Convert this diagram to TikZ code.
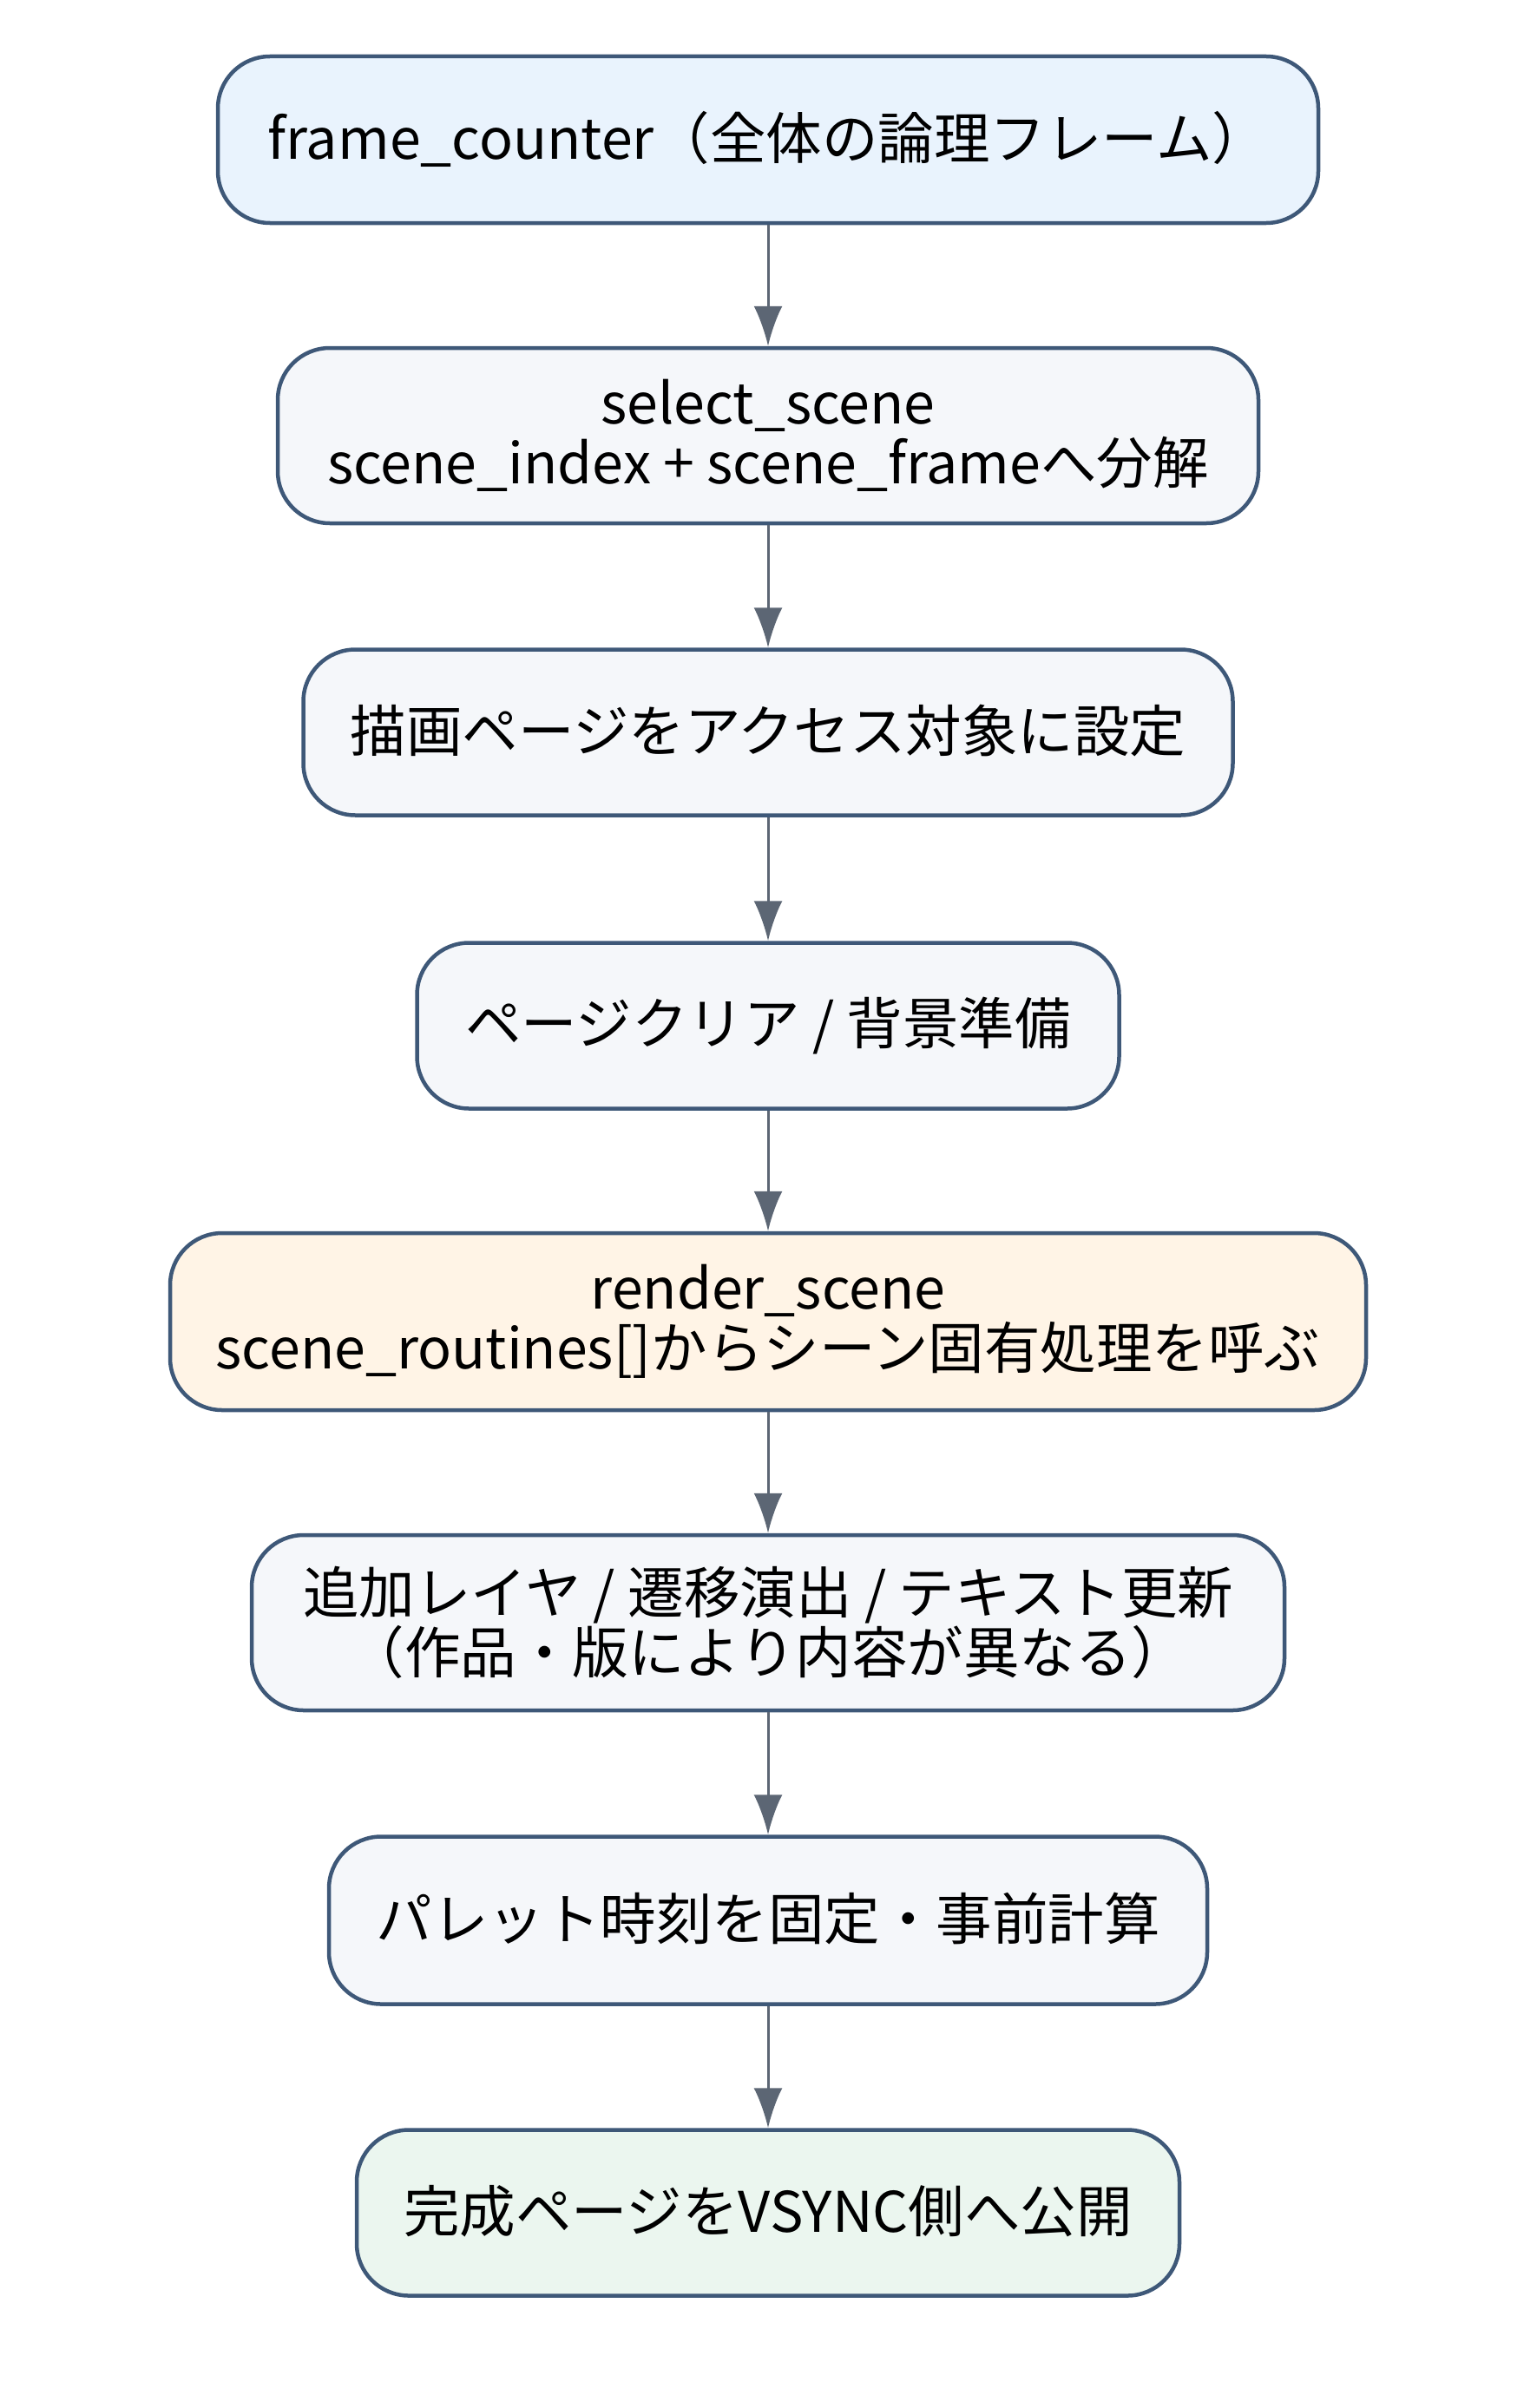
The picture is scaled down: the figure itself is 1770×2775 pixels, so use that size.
\documentclass[tikz,border=0pt]{standalone}
\usepackage{fontspec}
\setmainfont{Noto Sans CJK JP}
\usetikzlibrary{arrows.meta}
\definecolor{bordercol}{HTML}{3E5878}
\definecolor{arrowcol}{HTML}{5C6674}
\definecolor{fillblue}{HTML}{E9F3FD}
\definecolor{fillgrey}{HTML}{F5F7FA}
\definecolor{fillorange}{HTML}{FFF4E6}
\definecolor{fillgreen}{HTML}{EBF6EF}
\newcommand{\oneline}[1]{\raisebox{10pt}{#1}}
\begin{document}
\begin{tikzpicture}[x=1pt,y=-1pt,
  box/.style={draw=bordercol, line width=4.5pt, rounded corners=60pt, fill=fillgrey,
    align=center, inner sep=0pt, font=\fontsize{64.5}{69}\selectfont},
  flow/.style={draw=arrowcol, line width=3pt, -{Latex[length=46pt,width=33pt]}}]
\useasboundingbox (0,0) rectangle (1770,2775);
\node[box, fill=fillblue, minimum width=1268pt, minimum height=192pt] (n1) at (885,161) {\oneline{frame\_counter（全体の論理フレーム）}};
\node[box, minimum width=1130pt, minimum height=202pt] (n2) at (885,502) {select\_scene\\scene\_index + scene\_frameへ分解};
\node[box, minimum width=1071pt, minimum height=191pt] (n3) at (885,844) {\oneline{描画ページをアクセス対象に設定}};
\node[box, minimum width=809pt, minimum height=191pt] (n4) at (885,1182) {\oneline{ページクリア / 背景準備}};
\node[box, fill=fillorange, minimum width=1378pt, minimum height=204pt] (n5) at (885,1523) {render\_scene\\scene\_routines[]からシーン固有処理を呼ぶ};
\node[box, minimum width=1190pt, minimum height=202pt] (n6) at (885,1870) {追加レイヤ / 遷移演出 / テキスト更新\\（作品・版により内容が異なる）};
\node[box, minimum width=1012pt, minimum height=193pt] (n7) at (885,2213) {\oneline{パレット時刻を固定・事前計算}};
\node[box, fill=fillgreen, minimum width=948pt, minimum height=191pt] (n8) at (885,2550) {\oneline{完成ページをVSYNC側へ公開}};
\draw[flow] (n1) -- (n2);
\draw[flow] (n2) -- (n3);
\draw[flow] (n3) -- (n4);
\draw[flow] (n4) -- (n5);
\draw[flow] (n5) -- (n6);
\draw[flow] (n6) -- (n7);
\draw[flow] (n7) -- (n8);
\end{tikzpicture}
\end{document}
